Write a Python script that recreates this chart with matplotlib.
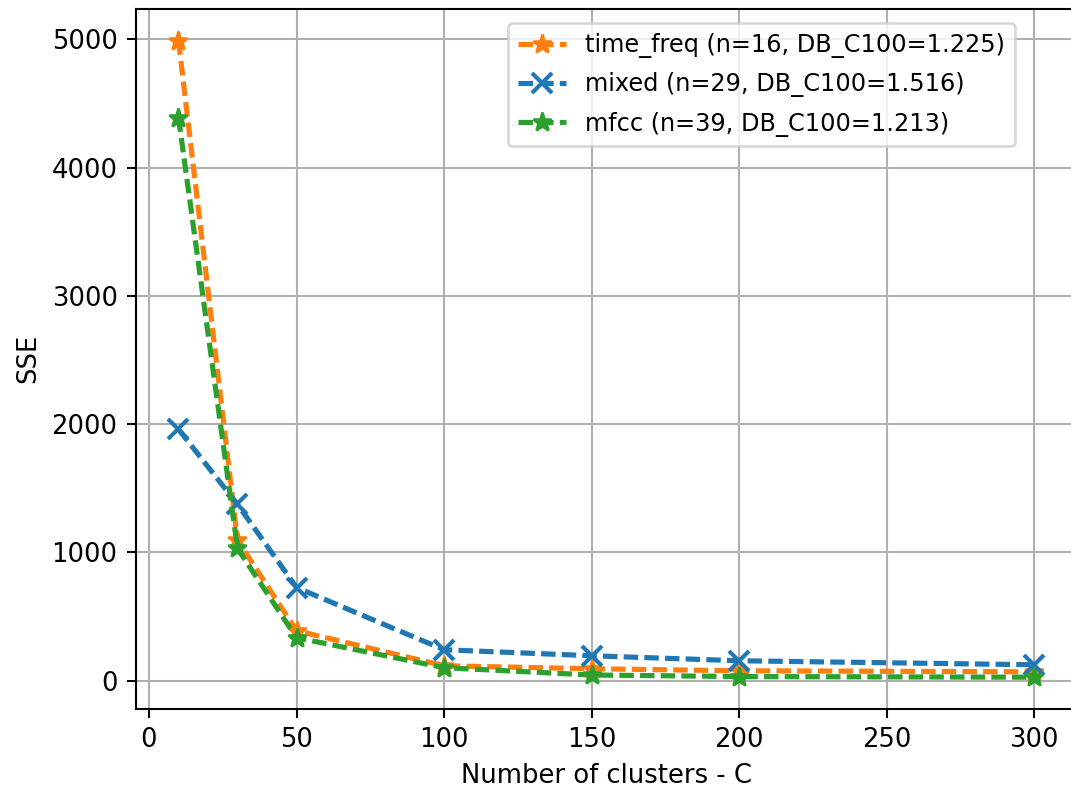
import matplotlib
matplotlib.use("Agg")
import matplotlib.pyplot as plt

clusters = [10, 30, 50, 100, 150, 200, 300]

sse_time_freq = [4990, 1095, 390, 117, 94, 78, 70]
sse_mixed = [1960, 1375, 727, 242, 195, 156, 125]
sse_mfcc = [4390, 1031, 336, 102, 45, 33, 28]

labels = ["time_freq (n=16, DB_C100=1.225)",
          "mixed (n=29, DB_C100=1.516)",
          "mfcc (n=39, DB_C100=1.213)"]

fig, ax = plt.subplots(figsize=(1071 / 186, 790 / 186), dpi=186)
fig.subplots_adjust(left=0.1267, right=1.0056, top=0.989, bottom=0.1025)

dash = (2.8, 1.2)
ax.plot(clusters, sse_time_freq, linestyle='--', dashes=dash, linewidth=2,
        marker='*', markersize=7.5, color='tab:orange', label=labels[0])
ax.plot(clusters, sse_mixed, linestyle='--', dashes=dash, linewidth=2,
        marker='x', markersize=7.5, markeredgewidth=1.6,
        color='tab:blue', label=labels[1])
ax.plot(clusters, sse_mfcc, linestyle='--', dashes=dash, linewidth=2,
        marker='*', markersize=7.5, color='tab:green', label=labels[2])

ax.set_xlabel("Number of clusters - C")
ax.set_ylabel("SSE")
ax.grid(True)
ax.legend(loc='upper right', bbox_to_anchor=(0.934, 0.979), borderaxespad=0,
          fontsize=9.3, labelspacing=0.6)

fig.savefig("out.png")
